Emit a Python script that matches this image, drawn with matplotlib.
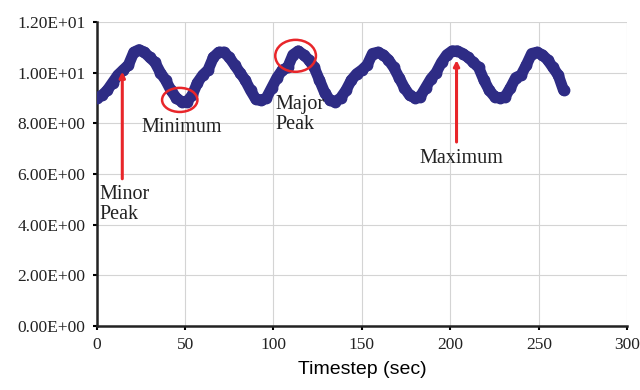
import numpy as np
import matplotlib
matplotlib.use("Agg")
import matplotlib.pyplot as plt
from matplotlib.patches import Ellipse
from matplotlib.ticker import FuncFormatter

# timestep (sec), one reading every 3 s
timestep = np.arange(0, 265, 3)
values = [
    9.0, 9.1, 9.3, 9.6, 9.9, 10.1, 10.3, 10.8, 10.9, 10.8,
    10.6, 10.4, 10.0, 9.7, 9.3, 9.0, 8.85, 8.85, 9.1, 9.6,
    9.9, 10.1, 10.6, 10.8, 10.8, 10.6, 10.3, 10.0, 9.7, 9.3,
    8.95, 8.9, 9.0, 9.4, 9.8, 10.1, 10.2, 10.7, 10.85, 10.7,
    10.5, 10.2, 9.7, 9.2, 8.9, 8.85, 9.0, 9.3, 9.7, 9.95,
    10.1, 10.3, 10.75, 10.8, 10.7, 10.5, 10.2, 9.8, 9.4, 9.1,
    9.0, 9.05, 9.4, 9.75, 10.0, 10.4, 10.7, 10.85, 10.85, 10.75,
    10.6, 10.4, 10.2, 9.7, 9.3, 9.05, 9.0, 9.05, 9.4, 9.8,
    9.9, 10.3, 10.75, 10.8, 10.7, 10.5, 10.2, 9.9, 9.3,
]

x_ticks = [0, 50, 100, 150, 200, 250, 300]
y_ticks = [0, 2, 4, 6, 8, 10, 12]

serif = "Liberation Serif"
navy = "#2E2C85"
red = "#E8262A"

fig = plt.figure(figsize=(6.4, 3.9), dpi=100)
ax = fig.add_axes([0.151, 0.164, 0.829, 0.78])

ax.plot(timestep, values, color=navy, lw=8, marker="o", ms=7.5, zorder=3,
        solid_capstyle="round", solid_joinstyle="round")

ax.set_xlim(0, 300)
ax.set_ylim(0, 12)
ax.set_xticks(x_ticks)
ax.set_yticks(y_ticks)
ax.yaxis.set_major_formatter(FuncFormatter(lambda v, p: "%.2E" % v))
for lab in ax.get_xticklabels() + ax.get_yticklabels():
    lab.set_fontfamily(serif)
    lab.set_fontsize(12.5)
    lab.set_color("#222222")

ax.grid(True, color="#d4d4d4", lw=0.8, zorder=0)
ax.set_axisbelow(True)
for s in ["top", "right"]:
    ax.spines[s].set_visible(False)
for s in ["left", "bottom"]:
    ax.spines[s].set_linewidth(1.8)
    ax.spines[s].set_color("#222222")
ax.tick_params(direction="out", length=3, width=1.5, pad=5)

ax.set_xlabel("Timestep (sec)", fontfamily="Liberation Sans", fontsize=14,
              labelpad=6)

# red circles
ax.add_patch(Ellipse((47, 8.92), 20, 0.95, fill=False, ec=red, lw=1.8, zorder=4))
ax.add_patch(Ellipse((112.5, 10.66), 23, 1.26, fill=False, ec=red, lw=1.8, zorder=4))

# red arrows
arrow = dict(arrowstyle="-|>", color=red, lw=2.2, mutation_scale=8)
ax.annotate("", xy=(14.5, 10.15), xytext=(14.5, 5.7), arrowprops=arrow, zorder=4)
ax.annotate("", xy=(203.5, 10.6), xytext=(203.5, 7.15), arrowprops=arrow, zorder=4)

txt = dict(fontfamily=serif, fontsize=14.5, color="#222222", linespacing=1.05)
ax.text(1.5, 5.55, "Minor\nPeak", ha="left", va="top", **txt)
ax.text(48, 7.85, "Minimum", ha="center", va="center", **txt)
ax.text(101, 9.1, "Major\nPeak", ha="left", va="top", zorder=5, **txt)
ax.text(206, 6.62, "Maximum", ha="center", va="center", **txt)

fig.savefig("out.png", dpi=100)
